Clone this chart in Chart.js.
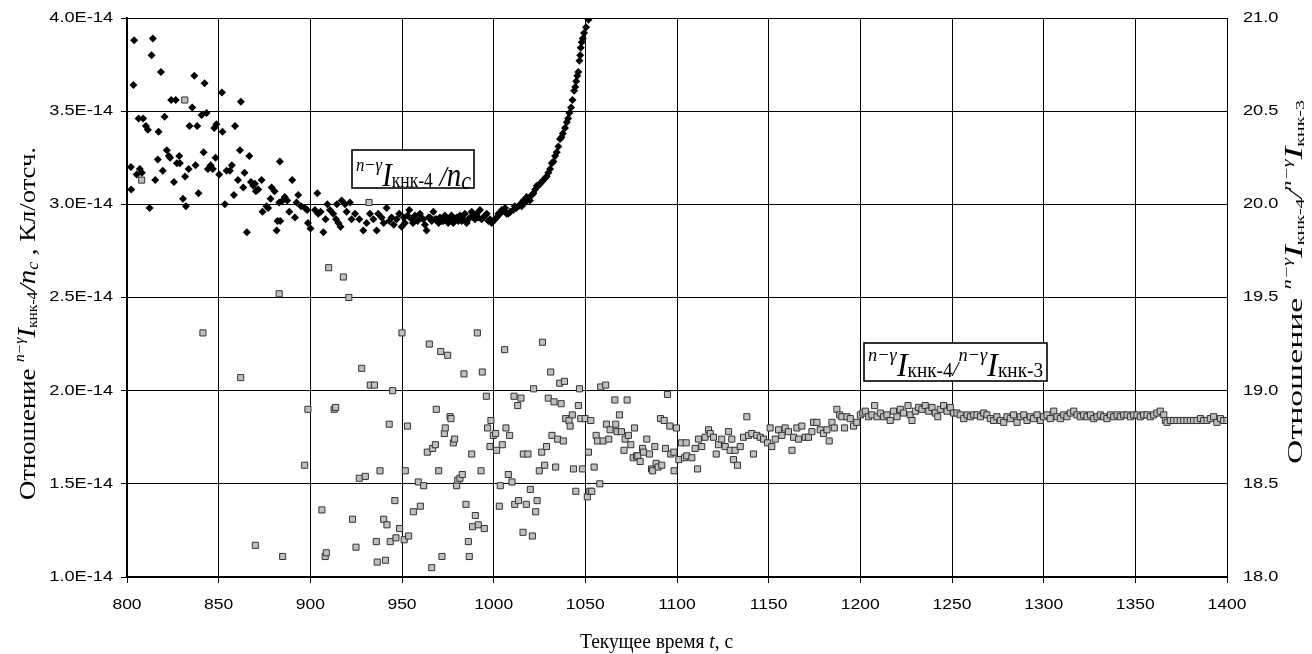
<!DOCTYPE html>
<html>
<head>
<meta charset="utf-8">
<script src="https://cdn.jsdelivr.net/npm/chart.js@4.4.1/dist/chart.umd.min.js"></script>
<style>
  body { margin: 0; background: #fff; }
  #wrap { width: 1312px; height: 654px; }
</style>
</head>
<body>
<div id="wrap"><canvas id="chart" width="1312" height="654"></canvas></div>
<script>
// time ticks and axis ticks
const xTicks = [800, 850, 900, 950, 1000, 1050, 1100, 1150, 1200, 1250, 1300, 1350, 1400];
const leftTicks = [1.0, 1.5, 2.0, 2.5, 3.0, 3.5, 4.0];      // x 1E-14 Кл/отсч.
const rightTicks = [18.0, 18.5, 19.0, 19.5, 20.0, 20.5, 21.0];

// n-γ I(кнк-4) / n_c, [t, value in units of 1E-14]
const ratioNc = [
  [802.1,3.20],[802.3,3.08],[803.5,3.64],[803.9,3.88],[805.3,3.16],[806.3,3.46],[807.0,3.19],[808.1,3.17],[808.8,3.46],[810.3,3.42],
  [811.4,3.40],[812.3,2.98],[813.4,3.80],[814.1,3.89],[815.4,3.13],[816.8,3.24],[817.2,3.39],[818.5,3.71],[819.5,3.18],[820.5,3.47],
  [821.7,3.29],[822.8,3.26],[823.5,3.25],[824.1,3.56],[825.6,3.12],[826.6,3.56],[827.2,3.22],[828.5,3.26],[828.8,3.22],[830.5,3.03],
  [831.7,3.15],[832.1,2.99],[833.6,3.19],[834.1,3.42],[835.6,3.52],[836.7,3.69],[837.4,3.21],[838.3,3.42],[839.0,3.06],[840.7,3.48],
  [841.8,3.28],[842.3,3.65],[843.4,3.49],[844.1,3.19],[845.6,3.21],[846.8,3.19],[847.6,3.41],[848.3,3.25],[848.8,3.43],[850.3,3.16],
  [851.8,3.60],[852.1,3.39],[853.4,3.00],[854.3,3.18],[856.1,3.18],[857.2,3.21],[858.3,3.05],[858.9,3.42],[860.5,3.13],[861.6,3.29],
  [862.1,3.55],[863.4,3.09],[864.1,3.17],[865.4,2.85],[866.7,3.26],[867.6,3.12],[868.9,3.10],[869.8,3.11],[870.3,3.07],[871.6,3.08],
  [873.4,3.13],[873.9,2.96],[876.1,2.99],[877.0,2.98],[878.3,3.03],[878.9,3.09],[880.5,3.07],[881.6,2.86],[882.1,2.91],[883.0,3.01],
  [883.4,3.23],[883.6,2.91],[884.9,3.02],[886.0,3.04],[887.4,3.02],[888.5,2.96],[890.1,3.13],[891.6,2.93],[892.5,3.01],[893.4,3.05],
  [894.9,2.99],[897.1,2.98],[898.3,2.97],[898.7,2.90],[900.1,2.87],[902.5,2.97],[903.8,3.06],[904.3,2.95],[905.6,2.96],[907.1,2.85],
  [908.3,2.92],[909.3,3.00],[910.7,2.97],[912.5,2.95],[914.0,2.92],[914.5,3.00],[915.3,2.90],[916.5,2.88],[917.1,3.02],[918.9,3.00],
  [919.8,2.96],[921.6,3.01],[922.5,2.92],[924.4,2.95],[926.7,2.92],[928.9,2.86],[930.7,2.90],[932.5,2.95],[934.4,2.92],[936.2,2.86],
  [937.0,2.95],[938.9,2.93],[940.0,2.90],[941.6,2.98],[943.0,2.91],[944.3,2.93],[945.5,2.89],[947.1,2.92],[948.5,2.95],[949.8,2.88],
  [951.0,2.93],[951.6,2.90],[953.0,2.94],[954.0,2.97],[955.2,2.92],[956.0,2.90],[957.1,2.94],[958.5,2.91],[959.8,2.95],[960.5,2.93],
  [961.6,2.92],[962.5,2.89],[963.4,2.86],[964.5,2.93],[965.3,2.93],[966.2,2.91],[967.1,2.96],[968.0,2.92],[968.9,2.92],[970.0,2.90],
  [970.7,2.93],[971.6,2.91],[972.5,2.91],[973.4,2.94],[974.3,2.93],[975.2,2.90],[976.2,2.92],[977.0,2.94],[978.0,2.90],[979.0,2.92],
  [979.8,2.93],[980.7,2.91],[981.6,2.94],[982.5,2.91],[983.4,2.92],[984.3,2.95],[985.3,2.90],[986.2,2.92],[987.1,2.93],[988.0,2.96],
  [988.9,2.94],[989.8,2.92],[990.7,2.95],[991.6,2.93],[992.5,2.97],[993.4,2.92],[994.4,2.93],[995.3,2.94],[996.2,2.95],[997.1,2.91],
  [998.0,2.92],[998.9,2.90],[999.8,2.91],[1000.7,2.92],[1001.6,2.93],[1002.5,2.95],[1003.5,2.95],[1004.4,2.97],[1005.3,2.97],[1006.2,2.98],
  [1007.1,2.95],[1008.0,2.95],[1009.0,2.96],[1010.7,2.97],[1011.5,2.99],[1012.4,2.98],[1013.5,2.99],[1014.5,3.00],[1015.3,2.99],[1016.2,3.02],
  [1017.1,3.01],[1018.0,3.04],[1019.0,3.03],[1019.8,3.02],[1020.8,3.05],[1021.7,3.06],[1022.6,3.08],[1023.5,3.10],[1024.4,3.10],[1025.3,3.11],
  [1026.2,3.12],[1027.1,3.13],[1028.0,3.14],[1028.9,3.15],[1029.8,3.17],[1030.8,3.19],[1031.7,3.22],[1032.6,3.23],[1033.5,3.26],[1034.4,3.28],
  [1035.3,3.31],[1036.2,3.35],[1037.0,3.36],[1037.7,3.38],[1038.9,3.41],[1039.9,3.44],[1040.6,3.46],[1041.3,3.49],[1042.2,3.52],[1043.0,3.56],
  [1043.9,3.61],[1044.5,3.63],[1045.0,3.66],[1045.6,3.69],[1046.2,3.71],[1046.8,3.77],[1047.2,3.80],[1047.5,3.84],[1048.0,3.87],[1048.6,3.89],
  [1049.3,3.92],[1050.4,3.95],[1051.7,3.99]
];

// n-γ I(кнк-4) / n-γ I(кнк-3), [t, value]
const ratio43 = [
  [808.0,20.13],[831.5,20.56],[841.4,19.31],[862.0,19.07],[870.0,18.17],[883.0,19.52],[884.9,18.11],[896.9,18.60],[898.7,18.90],[906.3,18.36],
  [908.1,18.11],[908.7,18.13],[910.0,19.66],[913.0,18.90],[913.8,18.91],[918.0,19.61],[921.0,19.50],[923.0,18.31],[924.9,18.16],[926.7,18.53],
  [928.0,19.12],[930.0,18.54],[932.0,20.01],[932.7,19.03],[935.0,19.03],[936.0,18.19],[936.5,18.08],[938.0,18.57],[940.0,18.31],[941.0,18.09],
  [941.8,18.28],[943.0,18.82],[943.6,18.19],[944.9,19.00],[946.1,18.41],[946.7,18.21],[948.7,18.26],[950.0,19.31],[951.2,18.20],[951.8,18.57],
  [953.0,18.81],[953.6,18.22],[956.2,18.35],[958.9,18.51],[960.0,18.38],[961.8,18.49],[963.8,18.67],[964.9,19.25],[966.2,18.05],[966.7,18.69],
  [968.2,18.71],[968.7,18.90],[970.0,18.57],[971.1,19.21],[971.8,18.11],[973.1,18.77],[973.6,18.80],[974.9,19.19],[976.2,18.86],[976.7,18.85],
  [978.0,18.72],[978.7,18.74],[979.8,18.49],[980.4,18.52],[981.6,18.53],[982.9,18.55],[983.8,19.09],[984.9,18.39],[986.2,18.19],[986.7,18.11],
  [988.0,18.66],[988.5,18.27],[990.0,18.33],[991.1,19.31],[991.6,18.28],[993.1,18.57],[993.8,19.10],[994.9,18.26],[996.0,18.97],[996.7,18.80],
  [998.0,18.70],[998.5,18.84],[999.8,18.76],[1001.1,18.77],[1001.6,18.68],[1003.1,18.38],[1003.6,18.49],[1004.7,18.71],[1006.0,19.22],[1006.7,18.80],
  [1008.0,18.55],[1008.7,18.76],[1010.0,18.51],[1011.1,18.97],[1011.5,18.39],[1013.1,18.92],[1013.6,18.41],[1014.9,18.96],[1016.0,18.24],[1016.2,18.66],
  [1017.8,18.39],[1018.7,18.66],[1020.0,18.47],[1021.1,18.22],[1021.8,19.01],[1022.9,18.35],[1023.7,18.41],[1024.9,18.57],[1026.2,18.67],[1026.6,19.26],
  [1027.8,18.60],[1028.8,18.70],[1029.8,18.96],[1031.1,19.10],[1031.8,18.76],[1032.9,18.94],[1033.8,18.59],[1034.9,18.74],[1036.0,19.04],[1036.8,18.93],
  [1038.0,18.73],[1038.6,19.05],[1039.3,18.85],[1041.1,18.84],[1041.7,18.81],[1042.9,18.87],[1043.5,18.58],[1044.8,18.46],[1046.2,18.92],[1046.8,19.01],
  [1047.5,18.85],[1048.4,18.58],[1049.9,18.85],[1051.1,18.43],[1051.7,18.67],[1052.5,18.46],[1053.0,18.84],[1053.5,18.46],[1054.8,18.59],[1055.9,18.76],
  [1056.6,18.73],[1057.9,18.50],[1058.4,19.02],[1059.7,18.73],[1061.1,19.03],[1061.5,18.82],[1062.8,18.74],[1063.5,18.79],[1066.1,18.95],[1066.6,18.82],
  [1067.3,18.78],[1068.6,18.87],[1069.7,18.78],[1071.1,18.68],[1071.7,18.74],[1072.8,18.95],[1073.5,18.76],[1074.8,18.71],[1076.1,18.64],[1076.8,18.80],
  [1077.9,18.65],[1078.6,18.65],[1079.9,18.62],[1081.2,18.69],[1081.7,18.67],[1083.5,18.74],[1085.0,18.66],[1086.1,18.58],[1086.7,18.57],[1087.9,18.70],
  [1088.6,18.61],[1089.7,18.59],[1091.0,18.85],[1091.7,18.60],[1093.0,18.84],[1093.7,18.69],[1094.8,18.98],[1096.1,18.81],[1096.6,18.66],[1098.3,18.67],
  [1098.4,18.57],[1099.7,18.80],[1101.0,18.63],[1102.4,18.72],[1104.1,18.64],[1105.0,18.72],[1105.3,18.65],[1108.1,18.64],[1109.9,18.69],[1111.2,18.58],
  [1111.7,18.74],[1113.5,18.70],[1115.3,18.75],[1117.2,18.79],[1118.1,18.77],[1119.9,18.75],[1121.4,18.66],[1122.6,18.71],[1124.4,18.74],[1126.3,18.70],
  [1128.1,18.78],[1129.0,18.68],[1129.9,18.74],[1130.8,18.63],[1131.7,18.68],[1133.0,18.60],[1134.5,18.70],[1136.3,18.75],[1138.1,18.86],[1139.0,18.76],
  [1140.8,18.77],[1141.7,18.66],[1143.5,18.76],[1145.4,18.75],[1147.2,18.74],[1149.4,18.72],[1150.8,18.80],[1151.7,18.70],[1153.6,18.74],[1155.4,18.79],
  [1157.2,18.76],[1159.0,18.80],[1160.8,18.78],[1162.7,18.68],[1163.6,18.75],[1165.4,18.80],[1166.3,18.74],[1168.1,18.81],[1169.9,18.75],[1171.7,18.75],
  [1173.6,18.78],[1174.5,18.83],[1176.3,18.83],[1178.1,18.79],[1179.9,18.77],[1181.8,18.79],[1183.0,18.73],[1184.5,18.83],[1185.8,18.80],[1187.2,18.90],
  [1188.7,18.87],[1189.9,18.86],[1191.4,18.80],[1192.7,18.86],[1194.5,18.85],[1196.3,18.81],[1198.1,18.83],[1200.0,18.87],[1201.4,18.88],[1202.7,18.89],
  [1204.5,18.86],[1206.3,18.87],[1207.8,18.92],[1209.1,18.86],[1210.9,18.88],[1212.7,18.86],[1214.5,18.87],[1216.3,18.84],[1218.1,18.89],[1220.0,18.86],
  [1221.8,18.90],[1223.6,18.88],[1226.0,18.92],[1227.2,18.87],[1228.2,18.84],[1230.0,18.89],[1231.8,18.91],[1233.6,18.90],[1235.4,18.92],[1237.3,18.89],
  [1239.1,18.91],[1240.9,18.88],[1242.2,18.86],[1243.6,18.90],[1245.4,18.92],[1247.3,18.89],[1249.1,18.91],[1250.9,18.88],[1252.7,18.88],[1254.5,18.87],
  [1256.4,18.85],[1258.2,18.87],[1260.0,18.86],[1261.8,18.87],[1263.6,18.87],[1265.5,18.86],[1267.3,18.88],[1269.1,18.87],[1270.9,18.85],[1272.7,18.84],
  [1274.5,18.86],[1276.4,18.84],[1278.2,18.83],[1280.0,18.86],[1281.8,18.85],[1283.6,18.87],[1285.5,18.83],[1287.3,18.86],[1289.1,18.87],[1290.9,18.84],
  [1292.7,18.86],[1294.5,18.85],[1296.4,18.87],[1298.2,18.84],[1300.0,18.86],[1301.8,18.87],[1303.6,18.85],[1305.5,18.89],[1307.3,18.86],[1309.1,18.85],
  [1310.9,18.87],[1312.7,18.86],[1314.5,18.88],[1316.4,18.89],[1318.2,18.87],[1320.0,18.86],[1321.8,18.87],[1323.6,18.86],[1325.5,18.87],[1327.3,18.85],
  [1329.1,18.86],[1330.9,18.87],[1332.7,18.86],[1334.5,18.85],[1336.4,18.87],[1338.2,18.86],[1340.0,18.87],[1341.8,18.86],[1343.6,18.87],[1345.5,18.87],
  [1347.3,18.86],[1349.1,18.87],[1350.9,18.87],[1352.7,18.86],[1354.5,18.87],[1356.4,18.87],[1358.2,18.86],[1360.0,18.87],[1361.8,18.88],[1363.6,18.89],
  [1365.5,18.87],[1366.4,18.84],[1367.3,18.83],[1369.1,18.84],[1370.9,18.84],[1372.7,18.84],[1374.5,18.84],[1376.4,18.84],[1378.2,18.84],[1380.0,18.84],
  [1381.8,18.84],[1383.6,18.84],[1385.5,18.85],[1387.3,18.84],[1389.1,18.84],[1390.9,18.85],[1392.7,18.86],[1394.5,18.83],[1396.4,18.85],[1398.2,18.84],
  [1400.0,18.84]
];

const SERIF = '"Liberation Serif", "Times New Roman", serif';
const SANS = '"Liberation Sans", Arial, sans-serif';

// text runs with sub/superscripts
const labelNc = [
  { t: 'n\u2212\u03b3', f: 'italic 19px ' + SERIF, dy: -15 },
  { t: 'I', f: 'italic 33px ' + SERIF },
  { t: '\u043a\u043d\u043a-4', f: '20px ' + SERIF, dy: 1 },
  { t: ' /', f: 'italic 30px ' + SERIF },
  { t: 'n', f: 'italic 33px ' + SERIF },
  { t: 'c', f: 'italic 25px ' + SERIF, dy: 3 }
];
const label43 = [
  { t: 'n\u2212\u03b3', f: 'italic 19px ' + SERIF, dy: -15 },
  { t: 'I', f: 'italic 34px ' + SERIF },
  { t: '\u043a\u043d\u043a-4', f: '20px ' + SERIF, dy: 1 },
  { t: '/', f: 'italic 22px ' + SERIF },
  { t: 'n\u2212\u03b3', f: 'italic 19px ' + SERIF, dy: -15 },
  { t: 'I', f: 'italic 34px ' + SERIF },
  { t: '\u043a\u043d\u043a-3', f: '20px ' + SERIF, dy: 1 }
];
const titleLeft = [
  { t: '\u041e\u0442\u043d\u043e\u0448\u0435\u043d\u0438\u0435 ', f: '24px ' + SERIF },
  { t: 'n\u2212\u03b3', f: 'italic 14px ' + SERIF, dy: -11 },
  { t: 'I', f: 'italic 26px ' + SERIF },
  { t: '\u043a\u043d\u043a-4', f: '14px ' + SERIF, dy: 2 },
  { t: '/', f: 'italic 24px ' + SERIF },
  { t: 'n', f: 'italic 26px ' + SERIF },
  { t: 'c', f: 'italic 16px ' + SERIF, dy: 3 },
  { t: ' , \u041a\u043b/\u043e\u0442\u0441\u0447.', f: '24px ' + SERIF }
];
const titleRight = [
  { t: '\u041e\u0442\u043d\u043e\u0448\u0435\u043d\u0438\u0435 ', f: '22px ' + SERIF },
  { t: 'n\u2212\u03b3', f: 'italic 13px ' + SERIF, dy: -11 },
  { t: 'I', f: 'italic 25px ' + SERIF },
  { t: '\u043a\u043d\u043a-4', f: '13px ' + SERIF, dy: 2 },
  { t: '/', f: 'italic 18px ' + SERIF },
  { t: 'n\u2212\u03b3', f: 'italic 13px ' + SERIF, dy: -11 },
  { t: 'I', f: 'italic 25px ' + SERIF },
  { t: '\u043a\u043d\u043a-3', f: '13px ' + SERIF, dy: 2 }
];
const titleX = [
  { t: '\u0422\u0435\u043a\u0443\u0449\u0435\u0435 \u0432\u0440\u0435\u043c\u044f ', f: '20px ' + SERIF },
  { t: 't', f: 'italic 20px ' + SERIF },
  { t: ', \u0441', f: '20px ' + SERIF }
];

function runWidth(c, runs) {
  let w = 0;
  runs.forEach(r => { c.font = r.f; w += c.measureText(r.t).width; });
  return w;
}
function drawRuns(c, runs) {
  let x = 0;
  runs.forEach(r => {
    c.font = r.f;
    c.fillText(r.t, x, r.dy || 0);
    x += c.measureText(r.t).width;
  });
}
// draw runs squeezed to length len, starting at (x, y) on the baseline; rot = -90 for vertical
function drawFitted(c, runs, x, y, len, rot) {
  c.save();
  c.translate(x, y);
  if (rot) c.rotate(rot * Math.PI / 180);
  c.scale(len / runWidth(c, runs), 1);
  c.textAlign = 'left';
  c.textBaseline = 'alphabetic';
  c.fillStyle = '#000';
  drawRuns(c, runs);
  c.restore();
}
function stretched(c, txt, x, y, align, sx) {
  c.save();
  c.translate(x, y);
  c.scale(sx, 1);
  c.textAlign = align;
  c.textBaseline = 'middle';
  c.fillText(txt, 0, 0);
  c.restore();
}

const labelsPlugin = {
  id: 'labels',
  afterDraw(chart) {
    const c = chart.ctx;
    const xs = chart.scales.x, yl = chart.scales.y, yr = chart.scales.y2;
    c.save();
    c.fillStyle = '#000';
    c.font = '14px ' + SANS;
    xs.ticks.forEach(t => stretched(c, String(t.value), xs.getPixelForValue(t.value), 605, 'center', 1.25));
    yl.ticks.forEach(t => stretched(c, t.value.toFixed(1) + 'E-14', 113, yl.getPixelForValue(t.value), 'right', 1.3));
    yr.ticks.forEach(t => stretched(c, t.value.toFixed(1), 1243, yr.getPixelForValue(t.value), 'left', 1.3));

    // boxed series labels
    c.fillStyle = '#fff';
    c.strokeStyle = '#000';
    c.lineWidth = 1.6;
    c.fillRect(352, 150, 122, 38);
    c.strokeRect(352, 150, 122, 38);
    c.fillRect(864, 343, 183, 38);
    c.strokeRect(864, 343, 183, 38);
    drawFitted(c, labelNc, 356, 186, 115, 0);
    drawFitted(c, label43, 868, 376, 175, 0);

    // axis titles
    drawFitted(c, titleX, 580, 648, 153, 0);
    drawFitted(c, titleLeft, 35, 500, 353, -90);
    drawFitted(c, titleRight, 1302, 464, 364, -90);
    c.restore();
  }
};

const ctx = document.getElementById('chart').getContext('2d');
const chart = new Chart(ctx, {
  type: 'scatter',
  data: {
    datasets: [
      {
        label: 'ratio43',
        data: ratio43.map(p => ({ x: p[0], y: p[1] })),
        yAxisID: 'y2',
        pointStyle: 'rect',
        pointRadius: 4.3,
        backgroundColor: '#c0c0c0',
        borderColor: '#333',
        borderWidth: 1,
        order: 0
      },
      {
        label: 'ratioNc',
        data: ratioNc.map(p => ({ x: p[0], y: p[1] })),
        yAxisID: 'y',
        pointStyle: 'rectRot',
        pointRadius: 4,
        backgroundColor: '#000',
        borderColor: '#000',
        borderWidth: 0,
        order: 1
      }
    ]
  },
  options: {
    responsive: false,
    animation: false,
    layout: { padding: { top: 18, left: 0, right: 0, bottom: 0 } },
    plugins: { legend: { display: false }, tooltip: { enabled: false } },
    scales: {
      x: {
        type: 'linear', position: 'bottom', min: 800, max: 1400,
        afterBuildTicks: s => { s.ticks = xTicks.map(v => ({ value: v })); },
        afterFit: s => { s.height = 77; },
        ticks: { display: false },
        grid: { color: '#000', lineWidth: 1, drawTicks: true, tickLength: 6, tickColor: '#000' },
        border: { display: true, color: '#000', width: 2 }
      },
      y: {
        type: 'linear', position: 'left', min: 1, max: 4,
        afterBuildTicks: s => { s.ticks = leftTicks.map(v => ({ value: v })); },
        afterFit: s => { s.width = 127; },
        ticks: { display: false },
        grid: { color: '#000', lineWidth: 1, drawTicks: true, tickLength: 6, tickColor: '#000' },
        border: { display: true, color: '#000', width: 2 }
      },
      y2: {
        type: 'linear', position: 'right', min: 18, max: 21,
        afterBuildTicks: s => { s.ticks = rightTicks.map(v => ({ value: v })); },
        afterFit: s => { s.width = 85; },
        ticks: { display: false },
        grid: { display: false },
        border: { display: true, color: '#000', width: 1 }
      }
    }
  },
  plugins: [labelsPlugin]
});
</script>
</body>
</html>
